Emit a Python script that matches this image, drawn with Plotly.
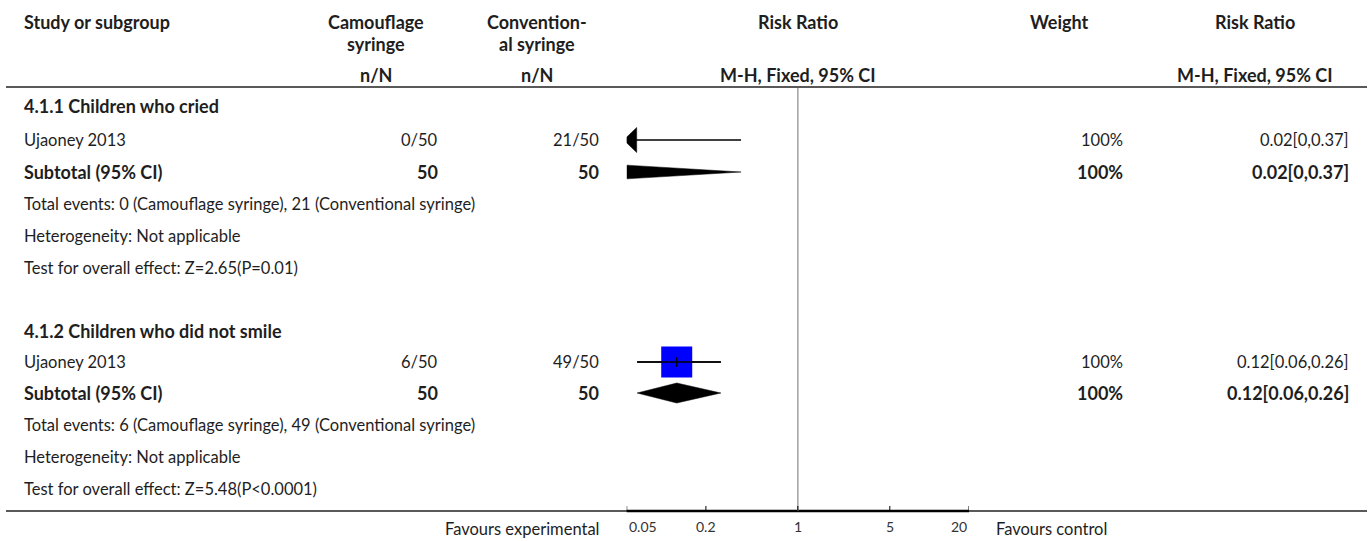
import math
import plotly.graph_objects as go

W, H = 1370, 541
FONT = "Lato"

# ---------------- data ----------------
col_headers = ["Study or subgroup", ["Camouflage", "syringe"], ["Convention-", "al syringe"],
               "Risk Ratio", "Weight", "Risk Ratio"]
sub_headers = ["n/N", "n/N", "M-H, Fixed, 95% CI", "M-H, Fixed, 95% CI"]

groups = ["4.1.1 Children who cried", "4.1.2 Children who did not smile"]
studies = ["Ujaoney 2013", "Ujaoney 2013"]
exp_events = ["0/50", "6/50"]
ctl_events = ["21/50", "49/50"]
exp_total = ["50", "50"]
ctl_total = ["50", "50"]
weights = ["100%", "100%"]
rr = [0.02, 0.12]
rr_lo = [0.0, 0.06]
rr_hi = [0.37, 0.26]
rr_text = ["0.02[0,0.37]", "0.12[0.06,0.26]"]
total_events = ["Total events: 0 (Camouflage syringe), 21 (Conventional syringe)",
                "Total events: 6 (Camouflage syringe), 49 (Conventional syringe)"]
heterogeneity = ["Heterogeneity: Not applicable", "Heterogeneity: Not applicable"]
overall = ["Test for overall effect: Z=2.65(P=0.01)",
           "Test for overall effect: Z=5.48(P<0.0001)"]
tick_vals = [0.05, 0.2, 1, 5, 20]
tick_text = ["0.05", "0.2", "1", "5", "20"]
axis_min, axis_max = 0.05, 20
fav_left, fav_right = "Favours experimental", "Favours control"

# ---------------- layout constants (pixels) ----------------
AX_L, AX_R = 626.7, 969.0
X_NAME = 22
X_EXP_R, X_CTL_R = 440, 601
X_EXP_C, X_CTL_C = 376, 537
X_FOREST_C = 797.7
X_W_C, X_W_R = 1059, 1125
X_RR_C, X_RR_R = 1255, 1351
Y_H1, Y_H2, Y_SUB, Y_LINE = 22, 44, 75, 87
group_y = [[106, 140, 172, 204, 236, 268], [331, 362, 393, 425, 457, 489]]
Y_BOT = 511
Y_TICKLBL = 526
FS = 16.5
FS_B = 18
TXT = "#1e1e1e"

def px(x):
    return x / W

def px_to_val(p):
    return 10 ** (math.log10(axis_min) + (p - AX_L) / (AX_R - AX_L) * (math.log10(axis_max) - math.log10(axis_min)))

fig = go.Figure()
ann = []
shapes = []

def text(x, y, s, anchor="left", bold=False, size=None, color=TXT):
    if size is None:
        size = FS_B if bold else FS
    if bold:
        s = "<b>" + s + "</b>"
    ann.append(dict(x=px(x), y=y, xref="paper", yref="y", text=s, showarrow=False,
                    xanchor=anchor, yanchor="middle", align="center",
                    font=dict(family=FONT, size=size, color=color)))

# headers
text(X_NAME, Y_H1, col_headers[0], bold=True)
for cx, lines in ((X_EXP_C, col_headers[1]), (X_CTL_C, col_headers[2])):
    text(cx, Y_H1, lines[0], anchor="center", bold=True)
    text(cx, Y_H2, lines[1], anchor="center", bold=True)
text(X_FOREST_C, Y_H1, col_headers[3], anchor="center", bold=True)
text(X_W_C, Y_H1, col_headers[4], anchor="center", bold=True)
text(X_RR_C, Y_H1, col_headers[5], anchor="center", bold=True)
text(X_EXP_C, Y_SUB, sub_headers[0], anchor="center", bold=True)
text(X_CTL_C, Y_SUB, sub_headers[1], anchor="center", bold=True)
text(X_FOREST_C, Y_SUB, sub_headers[2], anchor="center", bold=True)
text(X_RR_C, Y_SUB, sub_headers[3], anchor="center", bold=True)

shapes.append(dict(type="line", xref="paper", yref="y", x0=px(6), x1=px(1367), y0=Y_LINE, y1=Y_LINE,
                   line=dict(color="#222", width=1.5)))
shapes.append(dict(type="line", xref="paper", yref="y", x0=px(6), x1=px(1367), y0=Y_BOT, y1=Y_BOT,
                   line=dict(color="#222", width=1.5)))
shapes.append(dict(type="line", xref="paper", yref="y", x0=px(AX_L), x1=px(AX_R), y0=Y_BOT, y1=Y_BOT,
                   line=dict(color="#000", width=2.5)))
# null line
shapes.append(dict(type="line", xref="x", yref="y", x0=1, x1=1, y0=Y_LINE + 1, y1=Y_BOT,
                   line=dict(color="#a0a0a0", width=1.5)))

L = math.log10
for g in range(len(groups)):
    yg, ys, yst, yte, yhe, yov = group_y[g]
    text(X_NAME, yg, groups[g], bold=True)
    text(X_NAME, ys, studies[g])
    text(X_EXP_R, ys, exp_events[g], anchor="right")
    text(X_CTL_R, ys, ctl_events[g], anchor="right")
    text(X_W_R, ys, weights[g], anchor="right")
    text(X_RR_R, ys, rr_text[g], anchor="right")
    text(X_NAME, yst, "Subtotal (95% CI)", bold=True)
    text(X_EXP_R, yst, exp_total[g], anchor="right", bold=True)
    text(X_CTL_R, yst, ctl_total[g], anchor="right", bold=True)
    text(X_W_R, yst, weights[g], anchor="right", bold=True)
    text(X_RR_R, yst, rr_text[g], anchor="right", bold=True)
    text(X_NAME, yte, total_events[g])
    text(X_NAME, yhe, heterogeneity[g])
    text(X_NAME, yov, overall[g])

    lo, hi, est = rr_lo[g], rr_hi[g], rr[g]
    lo_c = lo if lo >= axis_min else axis_min
    # CI line
    fig.add_trace(go.Scatter(x=[lo_c, hi], y=[ys, ys], mode="lines",
                             line=dict(color="#000", width=1.5), hoverinfo="skip", showlegend=False,
                             cliponaxis=False))
    if lo < axis_min:
        # arrow head pointing left at the clipped end
        tip = px_to_val(AX_L - 3)
        base = px_to_val(AX_L + 10)
        fig.add_trace(go.Scatter(x=[tip, base, base, tip], y=[ys, ys - 12.5, ys + 12.5, ys],
                                 mode="lines", fill="toself", fillcolor="#000",
                                 line=dict(color="#000", width=0.5), hoverinfo="skip",
                                 showlegend=False, cliponaxis=False))
    if axis_min <= est <= axis_max:
        fig.add_trace(go.Scatter(x=[est], y=[ys], mode="markers",
                                 marker=dict(symbol="square", size=31, color="#0000ff",
                                             line=dict(width=0)),
                                 hoverinfo="skip", showlegend=False))
        fig.add_trace(go.Scatter(x=[lo_c, hi], y=[ys, ys], mode="lines",
                                 line=dict(color="#000", width=1.5), hoverinfo="skip", showlegend=False))
        fig.add_trace(go.Scatter(x=[est, est], y=[ys - 5, ys + 5], mode="lines",
                                 line=dict(color="#000", width=1.2), hoverinfo="skip", showlegend=False))
    # subtotal diamond (clipped to the axis)
    hh = 10
    if lo >= axis_min:
        dx = [lo, est, hi, est, lo]
        dy = [yst, yst - hh, yst, yst + hh, yst]
    elif est < axis_min:
        f = (L(hi) - L(axis_min)) / (L(hi) - L(est))
        dx = [axis_min, hi, axis_min, axis_min]
        dy = [yst - hh * f, yst, yst + hh * f, yst - hh * f]
    else:
        dx = [axis_min, est, hi, est, axis_min]
        dy = [yst - hh * 0.5, yst - hh, yst, yst + hh, yst + hh * 0.5]
    fig.add_trace(go.Scatter(x=dx, y=dy, mode="lines", fill="toself", fillcolor="#000",
                             line=dict(color="#000", width=0.5), hoverinfo="skip", showlegend=False))

# axis ticks & labels
for v, t in zip(tick_vals, tick_text):
    shapes.append(dict(type="line", xref="x", yref="y", x0=v, x1=v, y0=Y_BOT - 5, y1=Y_BOT,
                       line=dict(color="#000", width=1)))
    anchor = "center"
    if v == tick_vals[0]:
        anchor = "left"
    elif v == tick_vals[-1]:
        anchor = "right"
    ann.append(dict(x=math.log10(v), y=Y_TICKLBL, xref="x", yref="y", text=t, showarrow=False,
                    xanchor=anchor, yanchor="middle", font=dict(family=FONT, size=14, color="#333")))
text(601, Y_TICKLBL + 3, fav_left, anchor="right")
text(994, Y_TICKLBL + 3, fav_right, anchor="left")

fig.update_layout(
    width=W, height=H, margin=dict(l=0, r=0, t=0, b=0),
    paper_bgcolor="white", plot_bgcolor="white",
    xaxis=dict(type="log", range=[math.log10(axis_min), math.log10(axis_max)],
               domain=[AX_L / W, AX_R / W], showgrid=False, zeroline=False,
               showticklabels=False, ticks="", showline=False, fixedrange=True),
    yaxis=dict(range=[H, 0], domain=[0, 1], showgrid=False, zeroline=False,
               showticklabels=False, ticks="", showline=False, fixedrange=True),
    annotations=ann, shapes=shapes, showlegend=False,
)
fig.write_html("out.html", config={"displayModeBar": False},
               post_script="document.body.style.margin='0';document.body.style.padding='0';document.body.style.overflow='hidden';")
